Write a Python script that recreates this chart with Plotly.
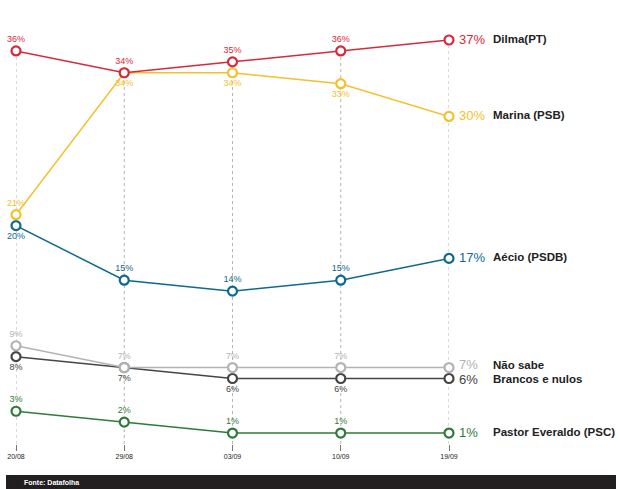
import plotly.graph_objects as go

W, H = 620, 489

dates = ["20/08", "29/08", "03/09", "10/09", "19/09"]

names = ["Pastor Everaldo (PSC)", "Brancos e nulos", "Não sabe", "Aécio (PSDB)", "Marina (PSB)", "Dilma(PT)"]
pastor = [3, 2, 1, 1, 1]
brancos = [8, 7, 6, 6, 6]
nao_sabe = [9, 7, 7, 7, 7]
aecio = [20, 15, 14, 15, 17]
marina = [21, 34, 34, 33, 30]
dilma = [36, 34, 35, 36, 37]

# where each data label sits
pos_pastor = ["top", "top", "top", "top"]
pos_brancos = ["bottom", "bottom", "bottom", "bottom"]
pos_nao_sabe = ["top", "top", "top", "top"]
pos_aecio = ["bottom", "top", "top", "top"]
pos_marina = ["top", "bottom", "bottom", "bottom"]
pos_dilma = ["top", "top", "top", "top"]

colors = ["#2f7a3a", "#454545", "#b3b3b3", "#0d6a8c", "#f4c02c", "#d8283a"]
# nudge for the end labels so the two close ones don't collide
end_shift = [1, -1, 3, 1, 1, 1]

series = [pastor, brancos, nao_sabe, aecio, marina, dilma]
positions = [pos_pastor, pos_brancos, pos_nao_sabe, pos_aecio, pos_marina, pos_dilma]

fig = go.Figure()

# dotted guides from the top value of each date down to zero
tops = [max(s[i] for s in series) for i in range(len(dates))]
for d, t in zip(dates, tops):
    fig.add_trace(go.Scatter(
        x=[d, d], y=[0, t], mode="lines",
        line=dict(color="#b5b5b5", width=1, dash="dot"),
        hoverinfo="skip", showlegend=False,
    ))

for name, vals, pos, col, sh in zip(names, series, positions, colors, end_shift):
    fig.add_trace(go.Scatter(
        x=dates, y=vals, mode="lines+markers+text", name=name,
        line=dict(color=col, width=1.5),
        marker=dict(size=9, color="white", line=dict(color=col, width=2.2)),
        text=[f"{v}%" for v in vals[:-1]] + [""],
        textposition=[p + " center" for p in pos] + ["middle right"],
        textfont=dict(size=9, color=col, family="Liberation Sans"),
        cliponaxis=False, showlegend=False,
    ))
    # value and name at the end of the line
    fig.add_annotation(
        x=dates[-1], y=vals[-1], text=f"{vals[-1]}%", showarrow=False,
        xanchor="left", xshift=8, yshift=sh,
        font=dict(size=13, color=col, family="Liberation Sans"),
    )
    fig.add_annotation(
        x=dates[-1], y=vals[-1], text=f"<b>{name}</b>", showarrow=False,
        xanchor="left", xshift=42, yshift=sh,
        font=dict(size=11.5, color="#222222", family="Liberation Sans"),
    )

# footer bar
fig.add_shape(type="rect", xref="paper", yref="paper",
              x0=6 / W, x1=616 / W, y0=0, y1=14 / H,
              fillcolor="#231f20", line_width=0, layer="above")
fig.add_annotation(xref="paper", yref="paper", x=22 / W, y=7 / H,
                   text="<b>Fonte: Datafolha</b>", showarrow=False,
                   xanchor="left", yanchor="middle",
                   font=dict(size=7, color="white", family="Liberation Sans"))

fig.update_xaxes(
    type="category", range=[0, 4], domain=[16 / W, 449 / W], automargin=False,
    showgrid=False, zeroline=False, showline=False,
    ticks="outside", ticklen=6, tickcolor="#777777", tickwidth=1,
    tickfont=dict(size=7, color="#222222", family="Liberation Sans"),
)
fig.update_yaxes(
    range=[0, 37], domain=[45 / H, 449 / H], automargin=False,
    showgrid=False, zeroline=False, showline=False, showticklabels=False,
)

fig.update_layout(
    width=W, height=H,
    margin=dict(l=0, r=0, t=0, b=0),
    plot_bgcolor="white", paper_bgcolor="white",
    showlegend=False,
)

fig.write_html("out.html", config={"displayModeBar": False},
               post_script="document.body.style.margin = '0';")
